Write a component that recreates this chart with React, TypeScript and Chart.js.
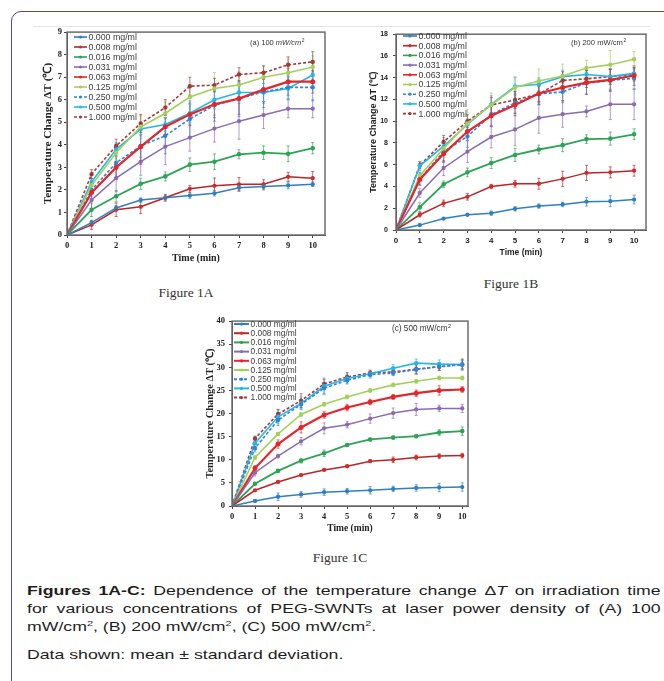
import React, { useEffect, useRef } from 'react';
import { Chart, registerables } from 'chart.js';

Chart.register(...registerables);

// ---------- data ----------
const TIME = [0, 1, 2, 3, 4, 5, 6, 7, 8, 9, 10];
const CONCENTRATIONS = ['0.000 mg/ml', '0.008 mg/ml', '0.016 mg/ml', '0.031 mg/ml', '0.063 mg/ml', '0.125 mg/ml', '0.250 mg/ml', '0.500 mg/ml', '1.000 mg/ml'];
const Y_TICKS_A = [0, 1, 2, 3, 4, 5, 6, 7, 8, 9];
const Y_TICKS_B = [0, 2, 4, 6, 8, 10, 12, 14, 16, 18];
const Y_TICKS_C = [0, 5, 10, 15, 20, 25, 30, 35, 40];

// (A) 100 mW/cm2 — mean
const A_MEAN = [
  [0, 0.55, 1.2, 1.55, 1.65, 1.75, 1.85, 2.1, 2.15, 2.2, 2.25],
  [0, 0.45, 1.12, 1.25, 1.65, 2.05, 2.18, 2.25, 2.25, 2.58, 2.52],
  [0, 1.12, 1.72, 2.27, 2.6, 3.12, 3.25, 3.58, 3.65, 3.6, 3.85],
  [0, 1.55, 2.52, 3.25, 3.92, 4.32, 4.72, 5.05, 5.32, 5.6, 5.6],
  [0, 1.88, 3.0, 3.92, 4.8, 5.35, 5.8, 6.05, 6.45, 6.8, 6.8],
  [0, 2.2, 3.65, 4.8, 5.4, 6.12, 6.5, 6.65, 7.0, 7.2, 7.45],
  [0, 2.0, 3.2, 3.95, 4.4, 5.15, 5.75, 6.05, 6.35, 6.55, 6.55],
  [0, 2.35, 3.8, 4.7, 4.9, 5.4, 6.0, 6.32, 6.32, 6.5, 7.1],
  [0, 2.7, 3.95, 4.95, 5.65, 6.6, 6.65, 7.12, 7.2, 7.55, 7.68],
];
// (A) standard deviation
const A_SD = [
  [0, 0.05, 0.1, 0.1, 0.1, 0.12, 0.12, 0.15, 0.15, 0.15, 0.1],
  [0, 0.2, 0.3, 0.3, 0.15, 0.15, 0.35, 0.3, 0.2, 0.2, 0.3],
  [0, 0.3, 0.25, 0.25, 0.2, 0.3, 0.35, 0.2, 0.3, 0.35, 0.25],
  [0, 0.4, 0.6, 0.6, 0.8, 0.6, 0.6, 0.8, 0.6, 0.4, 0.4],
  [0, 0.3, 0.5, 0.8, 0.4, 0.5, 0.6, 0.7, 0.6, 0.6, 0.5],
  [0, 0.3, 0.4, 0.5, 0.5, 0.5, 0.7, 0.6, 0.5, 0.6, 0.5],
  [0, 0.4, 0.6, 0.5, 0.8, 0.8, 0.7, 0.8, 0.7, 0.5, 0.6],
  [0, 0.3, 0.3, 0.3, 0.3, 0.4, 0.4, 0.4, 0.4, 0.5, 0.5],
  [0, 0.2, 0.3, 0.4, 0.35, 0.4, 0.3, 0.3, 0.3, 0.35, 0.45],
];

// (B) 200 mW/cm2 — mean
const B_MEAN = [
  [0, 0.45, 1.05, 1.4, 1.55, 1.95, 2.2, 2.35, 2.6, 2.65, 2.8],
  [0, 1.4, 2.45, 3.05, 4.0, 4.25, 4.25, 4.7, 5.25, 5.3, 5.45],
  [0, 2.1, 4.2, 5.3, 6.15, 6.9, 7.4, 7.8, 8.35, 8.4, 8.8],
  [0, 3.4, 5.7, 7.2, 8.55, 9.25, 10.3, 10.65, 10.9, 11.55, 11.55],
  [0, 4.65, 7.0, 9.05, 10.5, 11.5, 12.55, 13.1, 13.55, 13.8, 14.2],
  [0, 5.0, 7.5, 9.8, 11.5, 13.1, 13.7, 14.15, 14.9, 15.2, 15.7],
  [0, 4.7, 7.2, 8.6, 10.6, 11.7, 12.5, 12.7, 13.5, 13.75, 13.95],
  [0, 5.9, 7.7, 9.7, 11.55, 13.2, 13.4, 14.1, 14.3, 14.1, 14.4],
  [0, 5.95, 8.1, 10.0, 11.5, 11.95, 12.5, 13.75, 13.9, 14.1, 14.3],
];
const B_SD = [
  [0, 0.1, 0.1, 0.1, 0.2, 0.2, 0.2, 0.2, 0.4, 0.5, 0.4],
  [0, 0.2, 0.3, 0.3, 0.2, 0.3, 0.5, 0.7, 0.7, 0.5, 0.5],
  [0, 0.4, 0.3, 0.4, 0.5, 0.6, 0.4, 0.6, 0.4, 0.6, 0.5],
  [0, 0.4, 0.7, 1.0, 1.0, 1.5, 1.4, 1.2, 0.5, 1.4, 1.4],
  [0, 0.5, 0.7, 0.8, 1.0, 1.0, 1.0, 1.2, 1.1, 1.0, 0.9],
  [0, 0.5, 0.8, 1.3, 1.1, 1.0, 1.1, 1.1, 0.7, 1.3, 0.7],
  [0, 0.6, 1.0, 1.0, 1.0, 1.0, 1.0, 1.0, 1.0, 1.0, 1.0],
  [0, 0.4, 0.8, 0.5, 0.8, 0.8, 0.6, 0.6, 0.5, 0.7, 0.4],
  [0, 0.3, 0.6, 0.6, 0.7, 0.8, 0.7, 0.8, 0.8, 0.7, 0.6],
];

// (C) 500 mW/cm2 — mean
const C_MEAN = [
  [0, 1.1, 2.0, 2.5, 3.0, 3.2, 3.4, 3.7, 3.9, 4.0, 4.1],
  [0, 3.4, 5.2, 6.7, 7.8, 8.6, 9.7, 10.0, 10.5, 10.8, 10.9],
  [0, 4.8, 7.6, 9.8, 11.4, 13.2, 14.4, 14.8, 15.1, 15.9, 16.2],
  [0, 7.2, 10.8, 14.0, 16.8, 17.6, 18.9, 20.1, 20.9, 21.1, 21.1],
  [0, 8.2, 13.4, 17.0, 19.7, 21.3, 22.5, 23.6, 24.4, 25.0, 25.2],
  [0, 10.5, 15.6, 19.8, 22.0, 23.6, 25.0, 26.2, 27.0, 27.7, 27.7],
  [0, 12.5, 18.6, 22.0, 25.5, 27.2, 28.4, 28.8, 29.5, 30.2, 30.6],
  [0, 13.6, 19.3, 22.2, 25.9, 27.6, 28.6, 29.8, 30.9, 30.7, 30.6],
  [0, 14.6, 19.9, 22.8, 26.4, 27.9, 28.8, 29.0, 29.6, 30.1, 30.6],
];
const C_SD = [
  [0, 0.3, 0.8, 0.6, 0.7, 0.6, 0.8, 0.6, 0.7, 0.9, 0.9],
  [0, 0.2, 0.2, 0.2, 0.2, 0.2, 0.3, 0.6, 0.5, 0.5, 0.5],
  [0, 0.2, 0.3, 0.5, 0.7, 0.3, 0.3, 0.3, 0.3, 0.6, 0.9],
  [0, 0.7, 0.4, 0.8, 1.2, 0.7, 1.0, 1.1, 1.3, 0.7, 0.9],
  [0, 0.5, 0.9, 1.2, 0.7, 0.7, 0.6, 0.5, 0.7, 1.0, 0.6],
  [0, 0.4, 0.3, 0.4, 0.4, 0.4, 0.4, 0.4, 0.4, 0.4, 0.4],
  [0, 0.8, 1.2, 1.0, 1.2, 0.8, 0.7, 0.6, 1.0, 0.8, 1.0],
  [0, 0.8, 1.5, 1.4, 1.8, 1.0, 0.6, 0.8, 0.9, 0.9, 0.9],
  [0, 0.5, 1.0, 1.5, 1.0, 1.0, 0.6, 0.6, 1.0, 0.8, 1.2],
];

// ---------- styles ----------
const COLORS = ['#2f7fc1', '#b8252a', '#2ea356', '#8a6bb0', '#e3262b', '#a3d05a', '#2e86d8', '#25b8e6', '#a33a3a'];
const POINT_COLORS = ['#2f7fc1', '#d42a2a', '#2ea356', '#8a6bb0', '#e3262b', '#a3d05a', '#2e86d8', '#25b8e6', '#a33a3a'];
const DASHES: number[][] = [[], [], [], [], [], [], [3, 2], [], [3, 2]];
const WIDTHS = [1.5, 1.5, 1.8, 1.5, 2.2, 1.6, 1.6, 1.6, 1.6];

const SANS = '"Liberation Sans", Arial, sans-serif';
const SERIF = '"Liberation Serif", "Times New Roman", serif';

type Cfg = {
  left: number; top: number; width: number; height: number;
  yw: number; xh: number; padTop: number; padRight: number;
  xMax: number; yMax: number; yTicks: number[];
  means: number[][]; sds: number[][];
  family: string; tickSize: number; yTickSize: number; titleSize: number; yTitleSize: number;
  xTickPad: number; yTickPad: number; xTitlePad: number; yTitlePad: number;
  legend: { x: number; y: number; dy: number; len: number; size: number; lw: number };
  note: { prefix: string; unit: string; x: number; y: number; size: number; italic: boolean };
};

const frameAndExtras = {
  id: 'frameAndExtras',
  beforeDatasetsDraw(chart: any) {
    const cfg: Cfg = chart.options.plugins.frameAndExtras.cfg;
    const { ctx } = chart;
    const xs = chart.scales.x, ys = chart.scales.y;
    chart.data.datasets.forEach((ds: any, i: number) => {
      const sd = cfg.sds[i];
      ctx.save();
      ctx.strokeStyle = ds.borderColor;
      ctx.globalAlpha = 0.75;
      ctx.lineWidth = 0.9;
      ds.data.forEach((v: number, j: number) => {
        const e = sd[j];
        if (!e) return;
        const px = xs.getPixelForValue(TIME[j]);
        const y1 = ys.getPixelForValue(v - e);
        const y2 = ys.getPixelForValue(v + e);
        ctx.beginPath();
        ctx.moveTo(px, y1); ctx.lineTo(px, y2);
        ctx.moveTo(px - 1.5, y1); ctx.lineTo(px + 1.5, y1);
        ctx.moveTo(px - 1.5, y2); ctx.lineTo(px + 1.5, y2);
        ctx.stroke();
      });
      ctx.restore();
    });
  },
  afterDraw(chart: any) {
    const cfg: Cfg = chart.options.plugins.frameAndExtras.cfg;
    const { ctx, chartArea: a } = chart;
    ctx.save();
    ctx.strokeStyle = '#6d6d6d';
    ctx.lineWidth = 1.5;
    ctx.strokeRect(a.left, a.top, a.right - a.left, a.bottom - a.top);
    const L = cfg.legend;
    chart.data.datasets.forEach((ds: any, i: number) => {
      const y = L.y + i * L.dy;
      ctx.save();
      ctx.strokeStyle = ds.borderColor;
      ctx.lineWidth = L.lw;
      ctx.setLineDash(ds.borderDash || []);
      ctx.beginPath();
      ctx.moveTo(L.x, y); ctx.lineTo(L.x + L.len, y);
      ctx.stroke();
      ctx.setLineDash([]);
      ctx.fillStyle = ds.pointBackgroundColor;
      ctx.beginPath();
      ctx.arc(L.x + L.len / 2, y, 1.6, 0, Math.PI * 2);
      ctx.fill();
      ctx.fillStyle = '#3a3a3a';
      ctx.font = `${L.size}px ${SANS}`;
      ctx.textBaseline = 'middle';
      ctx.textAlign = 'left';
      ctx.fillText(ds.label, L.x + L.len + 1.5, y + 0.5);
      ctx.restore();
    });
    const N = cfg.note;
    ctx.fillStyle = '#333';
    ctx.textBaseline = 'middle';
    ctx.textAlign = 'left';
    ctx.font = `${N.size}px ${SANS}`;
    ctx.fillText(N.prefix, N.x, N.y);
    const w1 = ctx.measureText(N.prefix).width;
    ctx.font = `${N.italic ? 'italic ' : ''}${N.size}px ${SANS}`;
    ctx.fillText(N.unit, N.x + w1, N.y);
    const w2 = ctx.measureText(N.unit).width;
    ctx.font = `${N.size * 0.65}px ${SANS}`;
    ctx.fillText('2', N.x + w1 + w2 + 0.5, N.y - N.size * 0.35);
    ctx.restore();
  },
};

function PanelChart({ cfg }: { cfg: Cfg }) {
  const ref = useRef<HTMLCanvasElement | null>(null);
  useEffect(() => {
    if (!ref.current) return;
    const datasets = cfg.means.map((m, i) => ({
      label: CONCENTRATIONS[i],
      data: m,
      borderColor: COLORS[i],
      backgroundColor: COLORS[i],
      pointBackgroundColor: POINT_COLORS[i],
      pointBorderColor: POINT_COLORS[i],
      borderWidth: WIDTHS[i],
      borderDash: DASHES[i],
      pointRadius: 1.4,
      pointHoverRadius: 1.4,
      tension: 0,
      fill: false,
    }));
    const tickFont = { family: cfg.family, size: cfg.tickSize, weight: 'bold' as const };
    const chart = new Chart(ref.current, {
      type: 'line',
      data: { labels: TIME, datasets },
      plugins: [frameAndExtras],
      options: {
        animation: false,
        responsive: false,
        maintainAspectRatio: false,
        layout: { padding: { top: cfg.padTop, right: cfg.padRight, left: 0, bottom: 0 } },
        plugins: {
          legend: { display: false },
          tooltip: { enabled: false },
          frameAndExtras: { cfg },
        } as any,
        scales: {
          x: {
            type: 'linear',
            min: 0,
            max: cfg.xMax,
            afterBuildTicks: (ax: any) => { ax.ticks = TIME.map((v) => ({ value: v })); },
            afterFit: (s: any) => { s.height = cfg.xh; },
            ticks: { font: tickFont, color: '#222', padding: cfg.xTickPad, maxRotation: 0, autoSkip: false },
            grid: { drawOnChartArea: false, drawTicks: true, tickLength: 3, color: '#444', lineWidth: 1 },
            border: { display: true, color: '#444', width: 1 },
            title: {
              display: true, text: 'Time (min)', color: '#222',
              font: { family: cfg.family, size: cfg.titleSize, weight: 'bold' },
              padding: { top: 0, bottom: cfg.xTitlePad },
            },
          },
          y: {
            type: 'linear',
            min: 0,
            max: cfg.yMax,
            afterBuildTicks: (ax: any) => { ax.ticks = cfg.yTicks.map((v) => ({ value: v })); },
            afterFit: (s: any) => { s.width = cfg.yw; },
            ticks: { font: { family: cfg.family, size: cfg.yTickSize, weight: 'bold' }, color: '#222', padding: cfg.yTickPad, autoSkip: false },
            grid: { drawOnChartArea: false, drawTicks: true, tickLength: 3, color: '#444', lineWidth: 1 },
            border: { display: true, color: '#444', width: 1 },
            title: {
              display: true, text: 'Temperature Change ΔT (℃)', color: '#222',
              font: { family: cfg.family, size: cfg.yTitleSize, weight: 'bold' },
              padding: { top: cfg.yTitlePad, bottom: 0 },
            },
          },
        },
      },
    });
    return () => chart.destroy();
  }, [cfg]);
  return (
    <canvas
      ref={ref}
      width={cfg.width}
      height={cfg.height}
      style={{ position: 'absolute', left: cfg.left, top: cfg.top, width: cfg.width, height: cfg.height }}
    />
  );
}

const CFG_A: Cfg = {
  left: 38, top: 25, width: 292, height: 247,
  yw: 29, xh: 37, padTop: 7, padRight: 5,
  xMax: 10.5, yMax: 9, yTicks: Y_TICKS_A,
  means: A_MEAN, sds: A_SD,
  family: SERIF, tickSize: 8.5, yTickSize: 8.5, titleSize: 10, yTitleSize: 11.3,
  xTickPad: 3, yTickPad: 2, xTitlePad: 8, yTitlePad: 3,
  legend: { x: 36, y: 12, dy: 10, len: 13, size: 8.8, lw: 1.6 },
  note: { prefix: '(a) 100 ', unit: 'mW/cm', x: 212, y: 18, size: 7.5, italic: true },
};

const CFG_B: Cfg = {
  left: 360, top: 25, width: 292, height: 245,
  yw: 36, xh: 40, padTop: 7, padRight: 6,
  xMax: 10.5, yMax: 18, yTicks: Y_TICKS_B,
  means: B_MEAN, sds: B_SD,
  family: SANS, tickSize: 8, yTickSize: 7, titleSize: 8.5, yTitleSize: 9,
  xTickPad: 3, yTickPad: 5, xTitlePad: 12, yTitlePad: 8,
  legend: { x: 43, y: 11, dy: 9.7, len: 14, size: 8.8, lw: 1.6 },
  note: { prefix: '(b) 200 ', unit: 'mW/cm', x: 211, y: 18, size: 7.6, italic: false },
};

const CFG_C: Cfg = {
  left: 196, top: 312, width: 276, height: 224,
  yw: 36, xh: 30, padTop: 8, padRight: 4,
  xMax: 10.25, yMax: 40, yTicks: Y_TICKS_C,
  means: C_MEAN, sds: C_SD,
  family: SERIF, tickSize: 8.5, yTickSize: 8.5, titleSize: 9.5, yTitleSize: 10.4,
  xTickPad: 3, yTickPad: 4, xTitlePad: 2, yTitlePad: 8,
  legend: { x: 38, y: 12, dy: 9.2, len: 15, size: 8.4, lw: 2 },
  note: { prefix: '(c) 500 ', unit: 'mW/cm', x: 196, y: 17, size: 8.2, italic: false },
};

const SCALE_X = 1.36;
const capLine = (extra: React.CSSProperties = {}): React.CSSProperties => ({
  position: 'absolute',
  left: 27,
  width: Math.round(634 / SCALE_X),
  height: 18,
  lineHeight: '18px',
  fontFamily: SANS,
  fontSize: 13,
  color: '#1e1e1e',
  whiteSpace: 'nowrap',
  transform: `scaleX(${SCALE_X})`,
  transformOrigin: '0 0',
  ...extra,
});

const sup: React.CSSProperties = { fontSize: 8, verticalAlign: 'super', lineHeight: 0 };

export default function App() {
  return (
    <div style={{ position: 'absolute', left: 0, top: 0, width: 664, height: 681, overflow: 'hidden', background: '#fff' }}>
      <div style={{ position: 'absolute', left: 11, top: 11, width: 720, height: 720, border: '1.5px solid #55499a', borderRadius: 10, boxSizing: 'border-box' }} />
      <div style={{ position: 'absolute', left: 33, top: 26, width: 617, height: 1, background: '#e4e4e4' }} />
      <PanelChart cfg={CFG_A} />
      <PanelChart cfg={CFG_B} />
      <PanelChart cfg={CFG_C} />
      <div style={{ position: 'absolute', left: 186, top: 293, transform: 'translate(-50%, -50%)', fontFamily: SERIF, fontSize: 13.5, color: '#333', whiteSpace: 'nowrap' }}>Figure 1A</div>
      <div style={{ position: 'absolute', left: 511, top: 284, transform: 'translate(-50%, -50%)', fontFamily: SERIF, fontSize: 13.5, color: '#333', whiteSpace: 'nowrap' }}>Figure 1B</div>
      <div style={{ position: 'absolute', left: 340, top: 558, transform: 'translate(-50%, -50%)', fontFamily: SERIF, fontSize: 13.5, color: '#333', whiteSpace: 'nowrap' }}>Figure 1C</div>
      <div style={capLine({ top: 582, display: 'flex', justifyContent: 'space-between' })}>
        {['Figures', '1A-C:', 'Dependence', 'of', 'the', 'temperature', 'change', 'ΔT', 'on', 'irradiation', 'time'].map((w, i) => (
          <span key={i} style={{ fontWeight: i < 2 ? 'bold' : 'normal' }}>
            {w === 'ΔT' ? <>Δ<i>T</i></> : w}
          </span>
        ))}
      </div>
      <div style={capLine({ top: 600, display: 'flex', justifyContent: 'space-between' })}>
        {['for', 'various', 'concentrations', 'of', 'PEG-SWNTs', 'at', 'laser', 'power', 'density', 'of', '(A)', '100'].map((w, i) => (
          <span key={i}>{w}</span>
        ))}
      </div>
      <div style={capLine({ top: 618 })}>
        mW/cm<span style={sup}>2</span>, (B) 200 mW/cm<span style={sup}>2</span>, (C) 500 mW/cm<span style={sup}>2</span>.
      </div>
      <div style={capLine({ top: 646 })}>Data shown: mean ± standard deviation.</div>
    </div>
  );
}
